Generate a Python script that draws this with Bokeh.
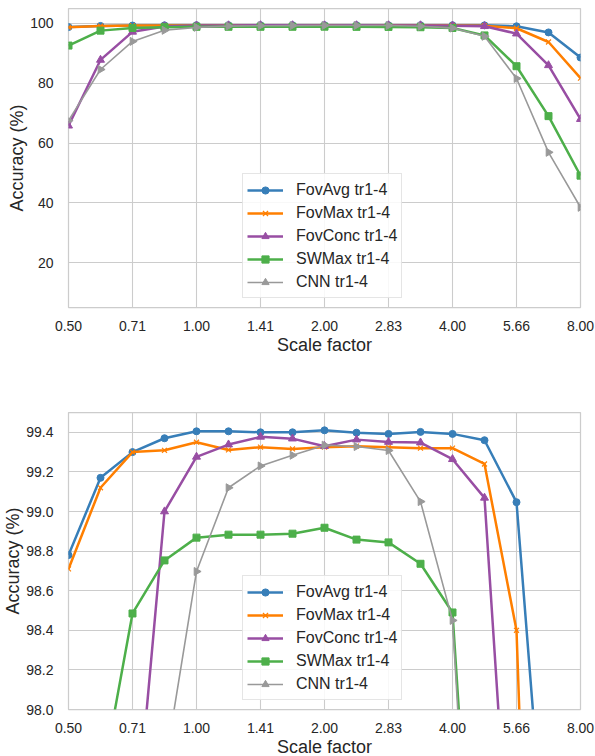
from bokeh.plotting import figure
from bokeh.layouts import column
from bokeh.models import (FixedTicker, CustomJSTickFormatter, PrintfTickFormatter,
                          Range1d, Legend, LegendItem)
from bokeh.embed import file_html
from bokeh.resources import INLINE

# ---- data ----
scale = [2 ** (k / 4) for k in range(-4, 13)]
x_ticks = [2 ** (k / 2) for k in range(-2, 7)]

fov_avg = [98.78, 99.17, 99.30, 99.37, 99.405, 99.405, 99.40, 99.40, 99.41,
           99.398, 99.392, 99.402, 99.392, 99.36, 99.047, 97.0, 88.6]
fov_max = [98.71, 99.12, 99.30, 99.309, 99.35, 99.311, 99.325, 99.316, 99.325,
           99.33, 99.325, 99.32, 99.32, 99.24, 98.40, 93.8, 81.7]
fov_conc = [65.8, 87.8, 97.2, 99.0, 99.276, 99.338, 99.377, 99.368, 99.33,
            99.363, 99.351, 99.348, 99.264, 99.069, 96.6, 86.0, 68.0]
sw_max = [92.6, 97.6, 98.485, 98.753, 98.868, 98.883, 98.883, 98.888, 98.918,
          98.858, 98.844, 98.736, 98.49, 96.0, 85.7, 69.0, 49.1]
cnn = [67.5, 84.6, 94.0, 97.7, 98.697, 99.12, 99.23, 99.284, 99.335,
       99.328, 99.308, 99.05, 98.45, 95.7, 81.6, 56.9, 38.5]

series_names = ["FovAvg tr1-4", "FovMax tr1-4", "FovConc tr1-4", "SWMax tr1-4", "CNN tr1-4"]
series_vals = [fov_avg, fov_max, fov_conc, sw_max, cnn]
colors = ["#377eb8", "#ff7f00", "#984ea3", "#4daf4a", "#999999"]
markers = ["circle", "x", "triangle", "square", "triangle"]
marker_angles = [0, 0, 0, 0, -1.5707963]
marker_sizes = [7, 7, 8, 7, 8]
line_widths = [2.5, 2.5, 2.5, 2.5, 1.6]

top_yticks = [20, 40, 60, 80, 100]
bot_yticks = [98.0, 98.2, 98.4, 98.6, 98.8, 99.0, 99.2, 99.4]

FONT = "Liberation Sans"
TXT = "#262626"
GRID = "#cccccc"


def make_fig(y_range, yticks, yfmt, frame_h, b_top, b_bottom):
    p = figure(x_axis_type="log", x_range=Range1d(0.5, 8), y_range=y_range,
               frame_width=512, frame_height=frame_h,
               min_border_left=68, min_border_right=15,
               min_border_top=b_top, min_border_bottom=b_bottom,
               output_backend="svg", toolbar_location=None,
               background_fill_color="white", border_fill_color="white")
    p.outline_line_color = GRID
    p.outline_line_width = 1.25
    p.xaxis.ticker = FixedTicker(ticks=x_ticks, minor_ticks=[])
    p.xaxis.formatter = CustomJSTickFormatter(code="return tick.toFixed(2);")
    p.yaxis.ticker = FixedTicker(ticks=yticks, minor_ticks=[])
    p.yaxis.formatter = yfmt
    for ax in (p.xaxis[0], p.yaxis[0]):
        ax.axis_line_color = None
        ax.major_tick_line_color = None
        ax.minor_tick_line_color = None
        ax.major_label_text_font = FONT
        ax.major_label_text_font_size = "14px"
        ax.major_label_text_color = TXT
        ax.axis_label_text_font = FONT
        ax.axis_label_text_font_size = "18px"
        ax.axis_label_text_font_style = "normal"
        ax.axis_label_text_color = TXT
    p.xaxis.axis_label = "Scale factor"
    p.yaxis.axis_label = "Accuracy (%)"
    p.xaxis.major_label_standoff = 7
    p.xaxis.axis_label_standoff = 1
    p.yaxis.major_label_standoff = 9
    p.yaxis.axis_label_standoff = 0
    p.xgrid.grid_line_color = GRID
    p.ygrid.grid_line_color = GRID
    p.xgrid.grid_line_width = 1.1
    p.ygrid.grid_line_width = 1.1

    items = []
    for name, vals, c, m, a, s, lw in zip(series_names, series_vals, colors, markers,
                                          marker_angles, marker_sizes, line_widths):
        r1 = p.line(scale, vals, line_color=c, line_width=lw)
        r2 = p.scatter(scale, vals, marker=m, size=s, angle=a, angle_units="rad",
                       fill_color=c, line_color=c, line_width=1.2 if m == "x" else 1)
        items.append(LegendItem(label=name, renderers=[r1, r2]))
    leg = Legend(items=items, location=(174, 9),
                 label_text_font=FONT, label_text_font_size="16px",
                 label_text_color=TXT, glyph_width=36, glyph_height=18,
                 label_height=23, label_standoff=13, spacing=0, padding=4,
                 margin=0, border_line_color=GRID, border_line_width=1,
                 background_fill_color="white", background_fill_alpha=0.85)
    p.add_layout(leg, "center")
    return p


p1 = make_fig(Range1d(5, 105), top_yticks, PrintfTickFormatter(format="%d"), 299, 8, 73)
p2 = make_fig(Range1d(98.0, 99.5), bot_yticks, PrintfTickFormatter(format="%.1f"), 297, 32, 46)

layout = column(p1, p2, spacing=0)
open("out.html", "w").write(file_html(layout, INLINE))
